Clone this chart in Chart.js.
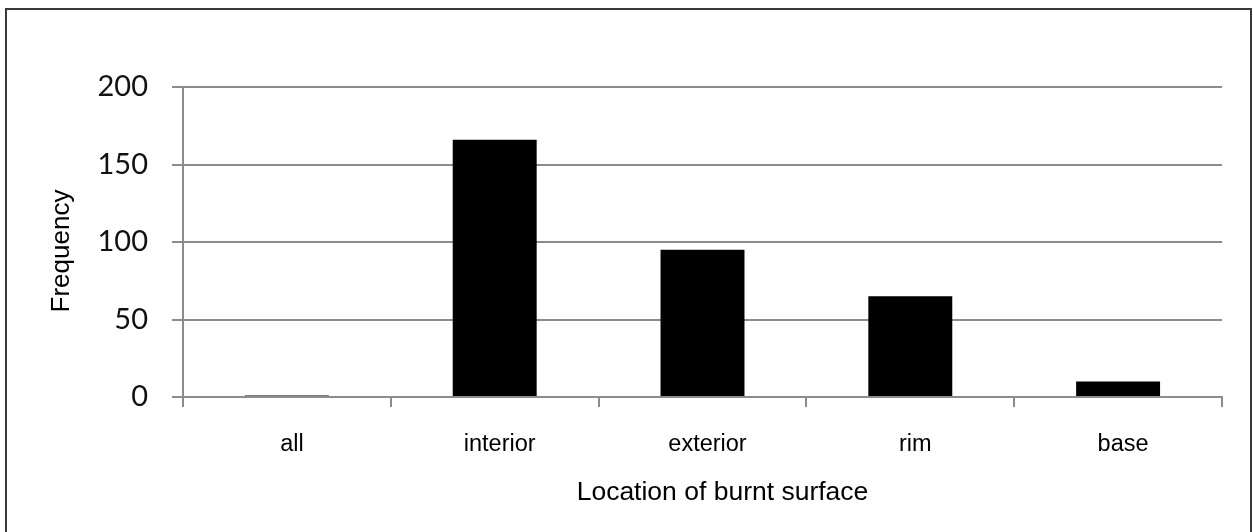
<!DOCTYPE html>
<html>
<head>
<meta charset="utf-8">
<script src="https://cdn.jsdelivr.net/npm/chart.js"></script>
<style>
  html, body { margin: 0; padding: 0; background: #fff; overflow: hidden; }
  #frame {
    position: absolute; left: 5px; top: 8px; width: 1247px; height: 600px;
    box-sizing: border-box; border: 2px solid #3a3a3a; border-bottom: none;
  }
  #wrap { position: absolute; left: 0; top: 0; width: 1253px; height: 532px; }
</style>
</head>
<body>
<div id="frame"></div>
<div id="wrap"><canvas id="chart"></canvas></div>
<script>
// burnt surface counts
const categories = ['all', 'interior', 'exterior', 'rim', 'base'];
const frequency = [1, 166, 95, 65, 10];
const yTicks = [0, 50, 100, 150, 200];

const gridGray = '#8c8c8c';

// axis titles in the original sit a little off-centre, nudge them
const titleShift = {
    id: 'titleShift',
    afterLayout(chart) {
        const shifts = { x: [20, 0], y: [0, 9] };
        Object.keys(shifts).forEach(id => {
            const scale = chart.scales[id];
            if (!scale || scale._shifted) return;
            const orig = scale.drawTitle;
            scale.drawTitle = function() {
                this.ctx.save();
                this.ctx.translate(shifts[id][0], shifts[id][1]);
                orig.apply(this, arguments);
                this.ctx.restore();
            };
            scale._shifted = true;
        });
    }
};

const ctx = document.getElementById('chart').getContext('2d');

new Chart(ctx, {
    type: 'bar',
    data: {
        labels: categories,
        datasets: [{
            label: 'Frequency',
            data: frequency,
            backgroundColor: '#000',
            borderWidth: 0,
            categoryPercentage: 1.0,
            barPercentage: 0.404
        }]
    },
    options: {
        responsive: true,
        maintainAspectRatio: false,
        animation: false,
        layout: {
            padding: { top: 87, right: 31, bottom: 0, left: 0 }
        },
        plugins: {
            legend: { display: false },
            tooltip: { enabled: false }
        },
        scales: {
            x: {
                grid: {
                    drawOnChartArea: false,
                    drawTicks: true,
                    tickLength: 10,
                    color: gridGray,
                    lineWidth: 2
                },
                border: { color: gridGray, width: 2 },
                ticks: {
                    color: '#000',
                    padding: 23,
                    labelOffset: 5,
                    font: { family: 'Liberation Sans, Arial, sans-serif', size: 23.5 }
                },
                title: {
                    display: true,
                    text: 'Location of burnt surface',
                    color: '#000',
                    font: { family: 'Liberation Sans, Arial, sans-serif', size: 26.5 },
                    padding: { top: 0, bottom: 23 }
                },
                afterFit: function(scale) { scale.height = 135; }
            },
            y: {
                min: 0,
                max: 200,
                afterBuildTicks: function(scale) {
                    scale.ticks = yTicks.map(v => ({ value: v }));
                },
                grid: {
                    color: gridGray,
                    lineWidth: 2,
                    tickLength: 11
                },
                border: { color: gridGray, width: 2 },
                ticks: {
                    color: '#111',
                    padding: 24,
                    font: { family: 'Lato, sans-serif', size: 29 }
                },
                title: {
                    display: true,
                    text: 'Frequency',
                    color: '#000',
                    font: { family: 'Liberation Sans, Arial, sans-serif', size: 26 },
                    padding: { top: 46, bottom: 0 }
                },
                afterFit: function(scale) { scale.width = 183; }
            }
        }
    },
    plugins: [titleShift]
});
</script>
</body>
</html>
